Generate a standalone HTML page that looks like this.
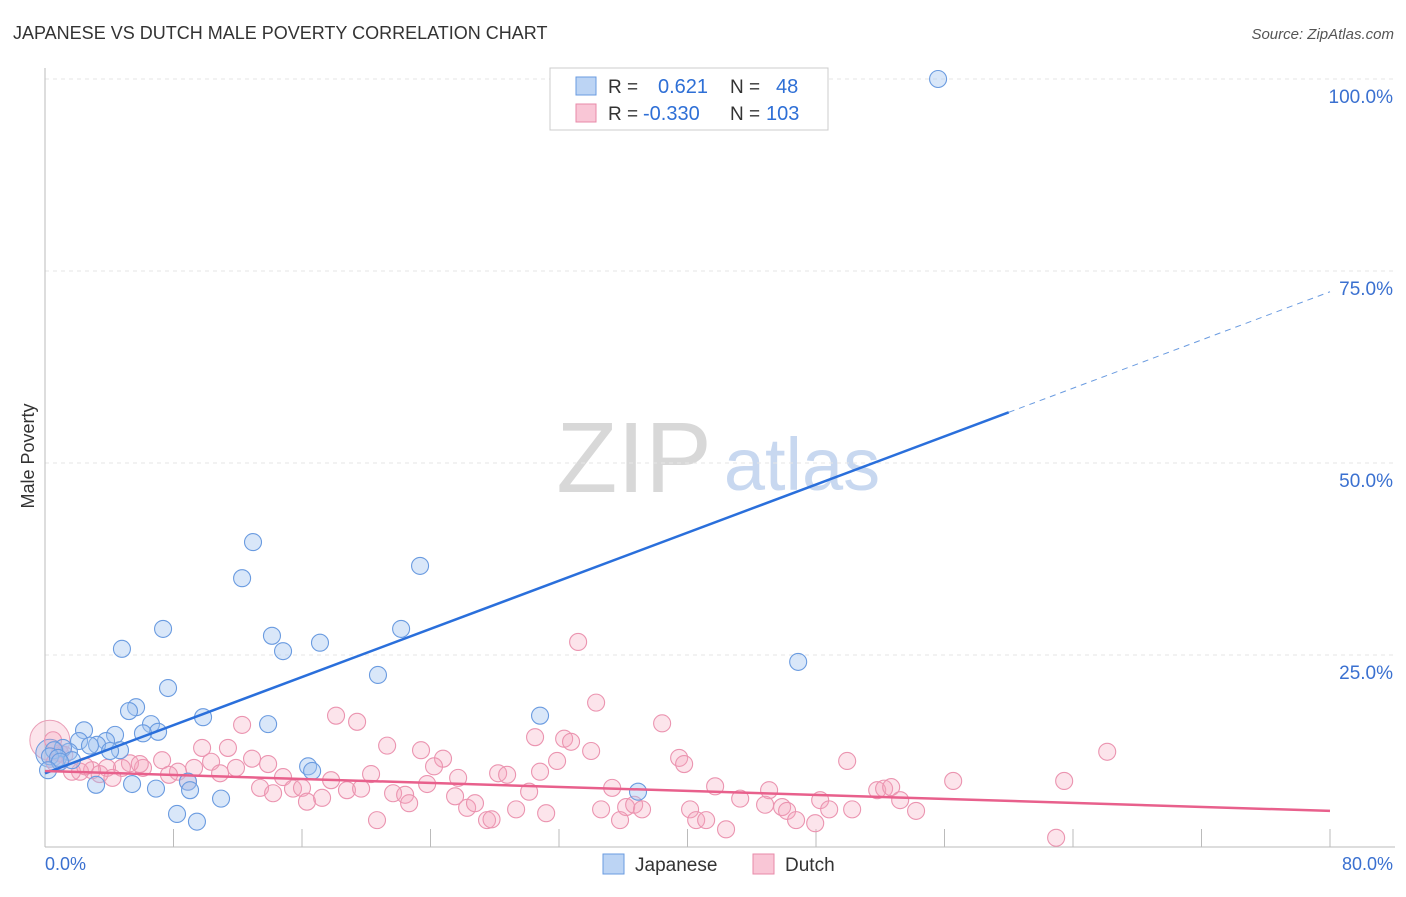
<!DOCTYPE html>
<html><head><meta charset="utf-8">
<style>
body{margin:0;background:#fff;font-family:"Liberation Sans",sans-serif;}
svg text{font-family:"Liberation Sans",sans-serif;}
</style></head>
<body>
<svg id="chart" width="1406" height="892" viewBox="0 0 1406 892" xmlns="http://www.w3.org/2000/svg">
<text x="13" y="39" font-size="18" fill="#333">JAPANESE VS DUTCH MALE POVERTY CORRELATION CHART</text>
<text x="1394" y="39" font-size="15" fill="#555" text-anchor="end" font-style="italic">Source: ZipAtlas.com</text>
<g>
<text x="634" y="492" font-size="100" fill="#d8d8d8" font-family="Liberation Serif,serif" text-anchor="middle">ZIP</text>
<text x="802" y="490" font-size="74" fill="#c8d8f0" text-anchor="middle">atlas</text>
</g>
<g id="grid"></g>
<g id="axes"></g>
<g id="marks"></g>
<g id="lines"></g>
<g>
<rect x="550" y="68" width="278" height="62" fill="#fff" stroke="#ccc"/>
<rect x="576" y="77" width="20" height="18" fill="#bcd4f4" stroke="#6a9be0"/>
<rect x="576" y="104" width="20" height="18" fill="#f9c6d6" stroke="#e88aa8"/>
<text x="608" y="93" font-size="19" fill="#333">R =</text>
<text x="658" y="93" font-size="20" fill="#2e6fd6">0.621</text>
<text x="730" y="93" font-size="19" fill="#333">N =</text>
<text x="776" y="93" font-size="20" fill="#2e6fd6">48</text>
<text x="608" y="120" font-size="19" fill="#333">R =</text>
<text x="643" y="120" font-size="20" fill="#2e6fd6">-0.330</text>
<text x="730" y="120" font-size="19" fill="#333">N =</text>
<text x="766" y="120" font-size="20" fill="#2e6fd6">103</text>
</g>
<g>
<rect x="603" y="854" width="21" height="20" fill="#bcd4f4" stroke="#6a9be0"/>
<text x="635" y="871" font-size="19" fill="#333">Japanese</text>
<rect x="753" y="854" width="21" height="20" fill="#f9c6d6" stroke="#e88aa8"/>
<text x="785" y="871" font-size="19" fill="#333">Dutch</text>
</g>
<text x="34" y="456" font-size="18" fill="#333" text-anchor="middle" transform="rotate(-90 34 456)">Male Poverty</text>
</svg>
<script>
const yTicks=[100,75,50,25];
const yTickLabels=["100.0%","75.0%","50.0%","25.0%"];
const xTicks=[0,8,16,24,32,40,48,56,64,72,80];
const xEndLabels=["0.0%","80.0%"];
const japaneseX=[55.6,12.95,12.27,23.35,7.35,22.17,14.13,17.12,4.79,14.82,46.89,20.73,7.66,5.67,5.23,9.84,6.6,13.89,7.04,2.43,6.1,4.36,2.12,3.8,3.24,2.8,4.67,4.05,1.49,1.12,0.56,0.31,0.81,1.68,16.38,16.63,30.82,36.92,3.18,5.42,6.91,8.9,9.03,10.96,8.22,9.46,0.93,0.19];
const japaneseY=[100,39.7,35.0,36.6,28.4,28.4,27.5,26.6,25.8,25.5,24.1,22.4,20.7,18.2,17.7,16.9,16.0,16.0,15.0,15.2,14.8,14.6,13.8,13.8,13.3,13.2,12.6,12.5,12.4,12.9,12.6,11.8,11.6,11.3,10.5,9.9,17.1,7.2,8.1,8.2,7.6,8.5,7.4,6.3,4.3,3.3,11.1,10.0];
const dutchX=[12.27,18.12,19.43,9.78,11.39,21.3,23.41,24.78,24.22,28.21,7.29,10.34,12.89,13.89,9.28,11.89,14.82,17.81,20.3,25.72,23.79,8.28,7.72,10.9,6.1,5.29,4.79,3.86,2.93,2.18,1.68,13.39,14.2,15.44,16.0,16.31,17.25,18.8,19.68,21.67,22.42,22.67,25.53,26.28,26.77,20.67,27.52,8.9,0.93,33.19,34.31,38.42,30.51,32.32,32.75,34.0,31.88,39.48,39.79,49.94,66.13,28.77,30.82,30.14,35.31,41.72,45.08,51.81,52.24,52.68,56.54,63.45,29.33,31.2,34.62,36.18,36.68,37.17,35.8,40.16,40.54,41.16,43.28,44.83,45.89,46.2,46.76,47.95,48.26,48.82,50.25,53.24,54.23,42.4,27.8,62.95,1.2,0.6,2.5,3.4,4.2,5.9,0.5];
const dutchY=[15.9,17.1,16.3,12.9,12.9,13.2,12.6,11.5,10.5,9.6,11.3,11.1,11.5,10.8,10.3,10.3,9.1,8.7,9.5,9.0,8.2,9.8,9.4,9.6,10.3,10.9,10.3,10.3,10.0,9.8,9.8,7.7,7.0,7.6,7.7,5.9,6.4,7.4,7.6,7.0,6.8,5.7,6.6,5.1,5.7,3.5,3.5,8.5,12.2,26.7,18.8,16.1,14.3,14.1,13.7,12.5,11.2,11.6,10.8,11.2,12.4,9.4,9.8,7.2,7.7,7.9,7.4,7.4,7.6,7.8,8.6,8.6,4.9,4.4,4.9,5.2,5.5,4.9,3.5,4.9,3.5,3.5,6.3,5.5,5.2,4.7,3.5,3.1,6.1,4.9,4.9,6.1,4.7,2.3,3.6,1.2,12.0,11.0,10.5,9.5,9.0,10.8,13.9];
const japaneseTrend=[9.6,56.6,72.3]; // values at x=0, 60, 80
const dutchTrend=[9.9,4.7];          // values at x=0, 80
const X=v=>45+v*16.0625;
const Y=v=>847-v*7.68;
const NS="http://www.w3.org/2000/svg";
function mk(tag,attrs,parent){const e=document.createElementNS(NS,tag);for(const k in attrs)e.setAttribute(k,attrs[k]);parent.appendChild(e);return e;}
const grid=document.getElementById('grid'),axes=document.getElementById('axes'),marks=document.getElementById('marks'),lines=document.getElementById('lines');
yTicks.forEach((t,i)=>{
  const l=mk('line',{x1:45,x2:1395,y1:Y(t),y2:Y(t),stroke:'#e6e6e6','stroke-dasharray':'4,4'},grid);
  
  
  const tx=mk('text',{x:1393,y:Y(t)+24,'font-size':19,fill:'#3a70d0','text-anchor':'end'},axes);
  tx.textContent=yTickLabels[i];
  
  
});
const la=mk('line',{x1:45,x2:45,y1:68,y2:847,stroke:'#bbb'},axes);


const ba=mk('line',{x1:45,x2:1395,y1:847,y2:847,stroke:'#bbb'},axes);


xTicks.forEach(t=>{
  const tk=mk('line',{x1:X(t),x2:X(t),y1:829,y2:847,stroke:'#bbb'},axes);
  
  
});
const xl0=mk('text',{x:45,y:870,'font-size':18,fill:'#3a70d0'},axes);xl0.textContent=xEndLabels[0];


const xl1=mk('text',{x:1393,y:870,'font-size':18,fill:'#3a70d0','text-anchor':'end'},axes);xl1.textContent=xEndLabels[1];


const bp=mk('circle',{cx:X(0.3),cy:Y(13.9),r:20,fill:'rgba(245,165,190,0.3)',stroke:'#eaa0b8'},marks);


const bb=mk('circle',{cx:X(0.3),cy:Y(12.2),r:14,fill:'rgba(150,185,235,0.35)',stroke:'#6a9be0'},marks);


dutchX.forEach((x,i)=>{
  const c=mk('circle',{cx:X(x),cy:Y(dutchY[i]),r:8.5,fill:'rgba(245,165,190,0.3)',stroke:'#eb94b0','stroke-width':1.1},marks);
  
  
});
japaneseX.forEach((x,i)=>{
  const c=mk('circle',{cx:X(x),cy:Y(japaneseY[i]),r:8.5,fill:'rgba(160,195,240,0.4)',stroke:'#6a9be0','stroke-width':1.1},marks);
  
  
});
const jl=mk('line',{x1:X(0),y1:Y(japaneseTrend[0]),x2:X(60),y2:Y(japaneseTrend[1]),stroke:'#2a6fdb','stroke-width':2.5},lines);


const jd=mk('line',{x1:X(60),y1:Y(japaneseTrend[1]),x2:X(80),y2:Y(japaneseTrend[2]),stroke:'#6a9be0','stroke-width':1,'stroke-dasharray':'6,5'},lines);


const dl=mk('line',{x1:X(0),y1:Y(dutchTrend[0]),x2:X(80),y2:Y(dutchTrend[1]),stroke:'#e8608c','stroke-width':2.5},lines);


</script>
</body></html>
